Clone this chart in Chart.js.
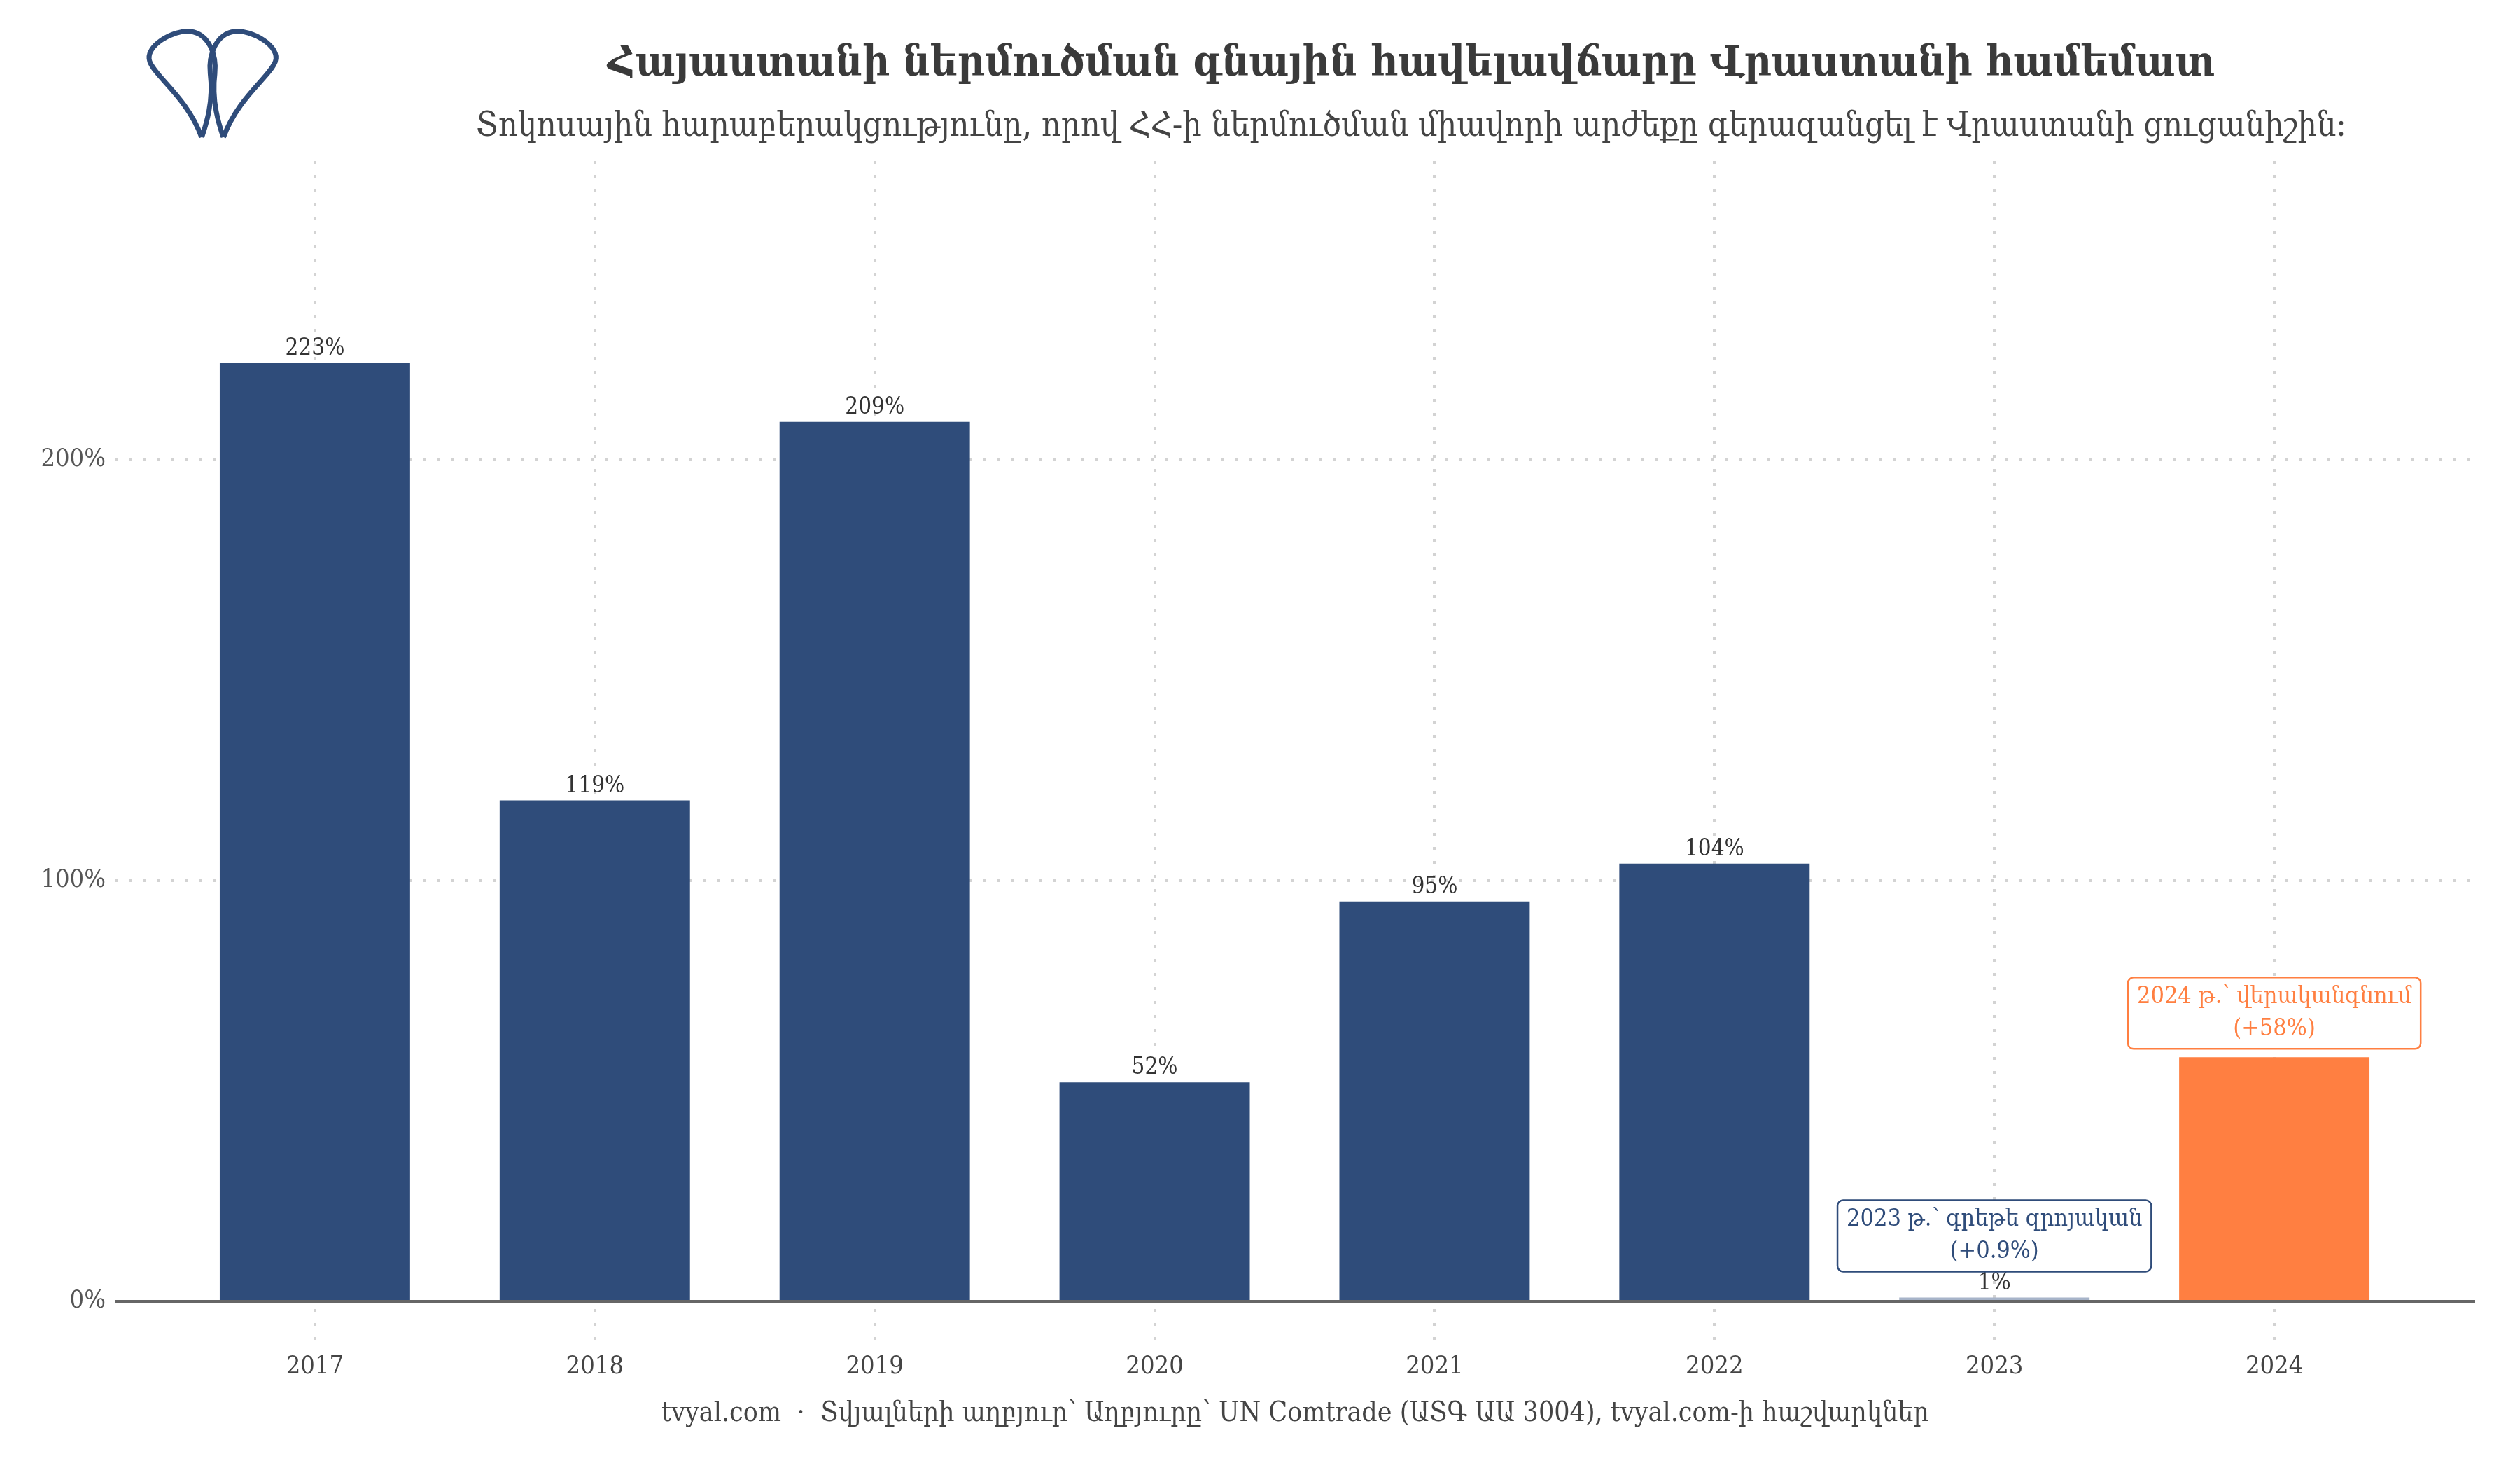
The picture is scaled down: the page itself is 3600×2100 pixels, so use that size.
<!DOCTYPE html>
<html>
<head>
<meta charset="utf-8">
<script src="https://cdn.jsdelivr.net/npm/chart.js@4"></script>
<style>
  body { margin: 0; background: #fff; }
  #wrap { position: relative; width: 3600px; height: 2100px; }
  .txt { position: absolute; text-align: center; font-family: 'DejaVu Serif Condensed', 'DejaVu Serif', serif; white-space: nowrap; transform: translateY(-50%); line-height: 1; }
  #title { left: 432px; width: 3168px; top: 87px; font-size: 60px; font-weight: bold; color: #3a3a3a; }
  #subtitle { left: 432px; width: 3168px; top: 177px; font-size: 48px; color: #444; }
  #footer { left: 165px; width: 3371px; top: 2016px; font-size: 39px; color: #444; }
</style>
</head>
<body>
<div id="wrap">
  <canvas id="chart" width="3600" height="2100"></canvas>
  <div class="txt" id="title">Հայաստանի ներմուծման գնային հավելավճարը Վրաստանի համեմատ</div>
  <div class="txt" id="subtitle">Տոկոսային հարաբերակցությունը, որով ՀՀ-ի ներմուծման միավորի արժեքը գերազանցել է Վրաստանի ցուցանիշին:</div>
  <div class="txt" id="footer">tvyal.com &nbsp;·&nbsp; Տվյալների աղբյուր՝ Աղբյուրը՝ UN Comtrade (ԱՏԳ ԱԱ 3004), tvyal.com-ի հաշվարկներ</div>
</div>
<script>
// տարիներ և հավելավճարի արժեքներ (%)
var years = ['2017', '2018', '2019', '2020', '2021', '2022', '2023', '2024'];
var premiumValues = [223, 119, 209, 52, 95, 104, 0.9, 58];
var valueLabels = ['223%', '119%', '209%', '52%', '95%', '104%', '1%', ''];
var yTickValues = [0, 100, 200];
var note2023 = ['2023 թ.՝ գրեթե զրոյական', '(+0.9%)'];
var note2024 = ['2024 թ.՝ վերականգնում', '(+58%)'];

var FONT = "'DejaVu Serif Condensed', 'DejaVu Serif', serif";
var NAVY = '#2f4c7a';
var ORANGE = '#ff7f41';
var PALE = '#a7b4c9';

function barColor(i) {
  if (i === 6) return PALE;
  if (i === 7) return ORANGE;
  return NAVY;
}

function drawNote(ctx, lines, cx, bottom, color) {
  ctx.save();
  ctx.font = '34px ' + FONT;
  var w = 0;
  lines.forEach(function (l) { w = Math.max(w, ctx.measureText(l).width); });
  var lineH = 46;
  var bw = w + 26, bh = lines.length * lineH + 10;
  var left = cx - bw / 2, top = bottom - bh;
  ctx.beginPath();
  ctx.roundRect(left, top, bw, bh, 8);
  ctx.fillStyle = '#fff';
  ctx.fill();
  ctx.lineWidth = 2.5;
  ctx.strokeStyle = color;
  ctx.stroke();
  ctx.fillStyle = color;
  ctx.textAlign = 'center';
  ctx.textBaseline = 'middle';
  lines.forEach(function (l, k) { ctx.fillText(l, cx, top + 5 + lineH * (k + 0.5)); });
  ctx.restore();
}

function drawLogo(ctx) {
  ctx.save();
  ctx.strokeStyle = NAVY;
  ctx.lineWidth = 7;
  ctx.lineJoin = 'round';
  var m = 607.4; // հայելային առանցք x*2
  [false, true].forEach(function (mirror) {
    var X = function (x) { return mirror ? m - x : x; };
    ctx.beginPath();
    ctx.moveTo(X(288), 196);
    ctx.bezierCurveTo(X(268), 140, X(222), 110, X(214), 88);
    ctx.bezierCurveTo(X(206), 66, X(248), 42, X(272), 45);
    ctx.bezierCurveTo(X(298), 48, X(310), 78, X(307), 105);
    ctx.bezierCurveTo(X(302), 145, X(313), 178, X(319), 196);
    ctx.stroke();
  });
  ctx.restore();
}

var overlayPlugin = {
  id: 'overlay',
  afterDatasetsDraw: function (chart) {
    var ctx = chart.ctx;
    var y = chart.scales.y;
    var area = chart.chartArea;
    // զրոյական գիծ
    ctx.save();
    ctx.strokeStyle = '#666';
    ctx.lineWidth = 4;
    ctx.beginPath();
    ctx.moveTo(area.left, y.getPixelForValue(0));
    ctx.lineTo(area.right, y.getPixelForValue(0));
    ctx.stroke();
    // արժեքների պիտակներ
    var meta = chart.getDatasetMeta(0);
    ctx.font = '33px ' + FONT;
    ctx.fillStyle = '#333';
    ctx.textAlign = 'center';
    ctx.textBaseline = 'bottom';
    meta.data.forEach(function (bar, i) {
      if (valueLabels[i]) ctx.fillText(valueLabels[i], bar.x, bar.y - 4);
    });
    ctx.restore();
    drawNote(ctx, note2023, meta.data[6].x, meta.data[6].y - 37, NAVY);
    drawNote(ctx, note2024, meta.data[7].x, meta.data[7].y - 12, ORANGE);
    drawLogo(ctx);
  }
};

new Chart(document.getElementById('chart'), {
  type: 'bar',
  data: {
    datasets: [{
      data: premiumValues.map(function (v, i) { return { x: i, y: v }; }),
      backgroundColor: function (c) { return barColor(c.dataIndex); },
      barPercentage: 0.68,
      categoryPercentage: 1
    }]
  },
  options: {
    responsive: false,
    animation: false,
    layout: { padding: { top: 230, right: 64, left: 0, bottom: 0 } },
    plugins: { legend: { display: false }, tooltip: { enabled: false } },
    scales: {
      x: {
        type: 'linear',
        min: -0.7125,
        max: 7.7175,
        offset: false,
        afterBuildTicks: function (s) { s.ticks = years.map(function (_, i) { return { value: i }; }); },
        afterFit: function (s) { s.height = 175; },
        ticks: {
          font: { family: FONT, size: 36 },
          color: '#444',
          padding: 6,
          callback: function (v) { return years[v]; }
        },
        grid: { color: '#d3d3d3', lineWidth: 4, drawTicks: false, offset: false },
        border: { display: false, dash: [4, 16] }
      },
      y: {
        min: -11,
        max: 271,
        afterBuildTicks: function (s) { s.ticks = yTickValues.map(function (v) { return { value: v }; }); },
        afterFit: function (s) { s.width = 165; },
        ticks: {
          font: { family: FONT, size: 36 },
          color: '#555',
          padding: 14,
          callback: function (v) { return v + '%'; }
        },
        grid: { color: '#d3d3d3', lineWidth: 4, drawTicks: false },
        border: { display: false, dash: [4, 16] }
      }
    }
  },
  plugins: [overlayPlugin]
});
</script>
</body>
</html>
